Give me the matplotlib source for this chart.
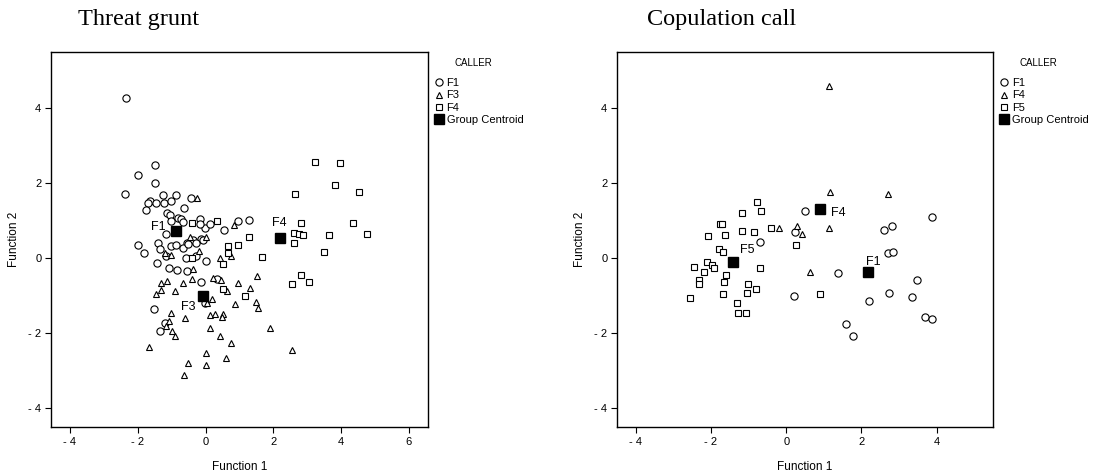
import matplotlib
matplotlib.use('Agg')
import matplotlib.pyplot as plt
from matplotlib.ticker import FuncFormatter

plt.rcParams['font.family'] = ['Liberation Sans', 'DejaVu Sans']

# Threat grunt: discriminant scores per caller
tg_f1_x = [-2.34, -1.48, -1.98, -1.48, -2.39, -1.25, -0.86, -0.44, -1.65, -1.70, -1.77, -1.45,
           -1.22, -1.01, -0.63, -1.13, -1.06, -0.81, -0.71, -1.01, -0.66, -0.15, -0.02, 0.13,
           0.54, 0.97, 1.28, -1.16, -0.17, -0.12, -0.36, -0.56, -1.40, -1.99, -1.82, -1.35,
           -1.01, -0.86, -0.66, -0.27, -0.09, -0.51, -0.58, -0.27, 0.00, -1.43, -1.18, -1.08,
           -0.83, -0.56, -0.14, 0.33, -0.02, -1.51, -1.20, -1.35]
tg_f1_y = [4.28, 2.50, 2.21, 2.00, 1.71, 1.70, 1.68, 1.62, 1.53, 1.48, 1.29, 1.47,
           1.48, 1.53, 1.35, 1.22, 1.15, 1.08, 1.04, 0.99, 0.97, 1.06, 0.82, 0.91,
           0.75, 0.99, 1.01, 0.64, 0.91, 0.51, 0.49, 0.40, 0.42, 0.36, 0.13, 0.24,
           0.33, 0.35, 0.27, 0.40, 0.48, 0.39, 0.02, 0.05, -0.07, -0.12, 0.05, -0.25,
           -0.31, -0.34, -0.63, -0.56, -1.18, -1.34, -1.73, -1.94]
tg_f3_x = [-0.24, 0.84, -0.46, 0.01, -0.20, -1.19, -1.01, 0.42, 0.75, -0.37, 1.51, -1.32,
           -1.13, -1.30, -1.45, -0.91, -0.66, -0.41, 0.21, 0.47, 0.95, 0.62, 1.31, 0.18,
           0.03, 1.49, 1.56, 0.87, -1.03, -0.61, 0.13, 0.28, 0.52, 0.49, -1.09, -1.18,
           -0.99, -0.91, 0.13, 0.42, 1.91, 0.75, -1.67, -0.51, -0.64, 0.01, 0.01, 0.60, 2.55]
tg_f3_y = [1.62, 0.89, 0.58, 0.58, 0.20, 0.15, 0.10, 0.00, 0.05, -0.29, -0.47, -0.65,
           -0.60, -0.85, -0.96, -0.87, -0.65, -0.56, -0.52, -0.59, -0.65, -0.87, -0.80, -1.09,
           -1.18, -1.16, -1.32, -1.23, -1.45, -1.60, -1.52, -1.49, -1.49, -1.56, -1.67, -1.80,
           -1.94, -2.07, -1.85, -2.07, -1.85, -2.25, -2.36, -2.78, -3.11, -2.53, -2.85, -2.67, -2.45]
tg_f4_x = [-0.39, 0.35, -0.41, 0.67, 0.97, 0.67, 0.50, 1.66, 1.28, 0.52, 1.16, 3.24,
           3.98, 3.81, 4.52, 2.65, 2.82, 4.36, 2.62, 2.75, 2.87, 2.62, 3.64, 4.75,
           3.50, 2.83, 2.55, 3.06]
tg_f4_y = [0.93, 0.99, 0.02, 0.33, 0.35, 0.15, -0.14, 0.04, 0.57, -0.83, -1.00, 2.58,
           2.55, 1.96, 1.78, 1.71, 0.95, 0.95, 0.68, 0.64, 0.62, 0.42, 0.62, 0.66,
           0.18, -0.45, -0.68, -0.62]
tg_groups = ['F1', 'F3', 'F4']
tg_cent_x = [-0.86, -0.09, 2.19]
tg_cent_y = [0.72, -1.01, 0.53]

# Copulation call
cc_f1_x = [-0.69, 0.22, 0.51, 0.20, 1.37, 2.61, 2.82, 3.87, 2.70, 2.85, 3.47, 2.20,
           2.73, 3.35, 3.68, 3.87, 1.59, 1.78]
cc_f1_y = [0.43, 0.71, 1.26, -1.00, -0.38, 0.76, 0.85, 1.10, 0.13, 0.18, -0.59, -1.14,
           -0.92, -1.03, -1.56, -1.61, -1.74, -2.07]
cc_f4_x = [-0.20, 1.13, 1.17, 2.70, 1.13, 0.28, 0.42, 0.64]
cc_f4_y = [0.80, 4.60, 1.78, 1.71, 0.82, 0.85, 0.64, -0.36]
cc_f5_x = [-0.78, -0.67, -1.18, -1.76, -1.71, -1.18, -0.85, -0.41, -1.63, -2.09, 0.26, 0.91,
           -1.78, -1.69, -2.12, -2.44, -1.98, -1.91, -2.18, -0.69, -1.60, -2.31, -2.31, -1.65,
           -1.02, -0.81, -1.05, -1.67, -2.56, -1.30, -1.29, -1.07]
cc_f5_y = [1.51, 1.25, 1.20, 0.91, 0.91, 0.73, 0.70, 0.80, 0.61, 0.60, 0.35, -0.94,
           0.26, 0.18, -0.09, -0.23, -0.18, -0.27, -0.36, -0.27, -0.45, -0.59, -0.68, -0.63,
           -0.68, -0.81, -0.93, -0.96, -1.05, -1.18, -1.47, -1.45]
cc_groups = ['F1', 'F4', 'F5']
cc_cent_x = [2.17, 0.91, -1.41]
cc_cent_y = [-0.36, 1.32, -0.10]

MARKERS = {'o': 5.2, '^': 4.3, 's': 4.9}


def fmt_tick(v, pos):
    v = int(round(v))
    return f'- {abs(v)}' if v < 0 else str(v)


def draw_panel(ax, series, groups, cent_x, cent_y, label_offsets, xticks, xlim):
    handles = []
    for (xs, ys, m), name in zip(series, groups):
        h, = ax.plot(xs, ys, m, ms=MARKERS[m], mfc='white', mec='black', mew=0.8,
                     linestyle='none', label=name)
        handles.append(h)
    c, = ax.plot(cent_x, cent_y, 's', ms=7, color='black', linestyle='none',
                 label='Group Centroid')
    handles.append(c)
    for name, cx, cy, off in zip(groups, cent_x, cent_y, label_offsets):
        ax.annotate(name, (cx, cy), xytext=off, textcoords='offset points',
                    ha='center', va='center', fontsize=9)

    ax.set_xlim(*xlim)
    ax.set_ylim(-4.5, 5.5)
    ax.set_xticks(xticks)
    ax.set_yticks([-4, -2, 0, 2, 4])
    ax.xaxis.set_major_formatter(FuncFormatter(fmt_tick))
    ax.yaxis.set_major_formatter(FuncFormatter(fmt_tick))
    ax.tick_params(direction='out', length=4, width=0.8, labelsize=8, pad=3)
    for sp in ax.spines.values():
        sp.set_linewidth(1.0)
    ax.set_xlabel('Function 1', fontsize=8.5, labelpad=10)
    ax.set_ylabel('Function 2', fontsize=8.5, labelpad=6)

    ax.legend(handles=handles, loc='upper left', bbox_to_anchor=(1.02, 0.93),
              frameon=False, fontsize=8, handlelength=0.7, handletextpad=0.3,
              labelspacing=0.2, borderaxespad=0, borderpad=0)
    ax.text(1.12, 0.97, 'CALLER', transform=ax.transAxes, ha='center', va='center',
            fontsize=7)


fig = plt.figure(figsize=(11.13, 4.76), dpi=100)
ax1 = fig.add_axes([0.0458, 0.1029, 0.3387, 0.7878])
ax2 = fig.add_axes([0.5544, 0.1029, 0.3378, 0.7878])

draw_panel(ax1,
           [(tg_f1_x, tg_f1_y, 'o'), (tg_f3_x, tg_f3_y, '^'), (tg_f4_x, tg_f4_y, 's')],
           tg_groups, tg_cent_x, tg_cent_y,
           [(-13, 3), (-10, -8), (0, 11)],
           [-4, -2, 0, 2, 4, 6], (-4.56, 6.56))
draw_panel(ax2,
           [(cc_f1_x, cc_f1_y, 'o'), (cc_f4_x, cc_f4_y, '^'), (cc_f5_x, cc_f5_y, 's')],
           cc_groups, cc_cent_x, cc_cent_y,
           [(4, 7), (13, -3), (10, 9)],
           [-4, -2, 0, 2, 4], (-4.5, 5.5))

fig.text(0.1244, 0.958, 'Threat grunt', family='Liberation Serif', fontsize=17.5,
         ha='center', va='center')
fig.text(0.648, 0.958, 'Copulation call', family='Liberation Serif', fontsize=17.5,
         ha='center', va='center')

fig.savefig('out.png', dpi=100)
